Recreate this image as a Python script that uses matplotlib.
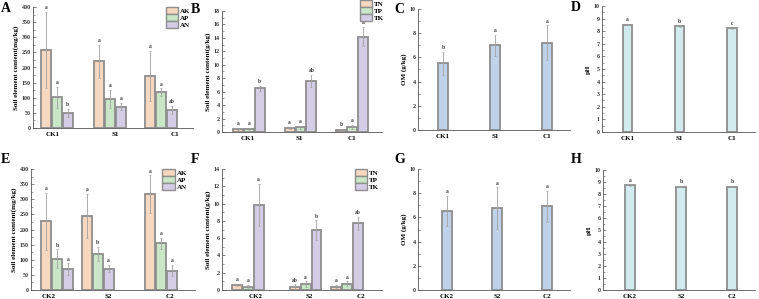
import matplotlib
matplotlib.use("Agg")
import matplotlib.pyplot as plt
from matplotlib.patches import Patch
from matplotlib.ticker import MultipleLocator, AutoMinorLocator

plt.rcParams['font.family'] = ['Liberation Serif', 'DejaVu Serif']
plt.rcParams['font.weight'] = 'bold'

# ---------------- data ----------------
groups_top = ['CK1', 'S1', 'C1']
groups_bot = ['CK2', 'S2', 'C2']
avail_names = ['AK', 'AP', 'AN']
total_names = ['TN', 'TP', 'TK']

# A
A_AK = [258, 220, 172]; A_AK_err = [127, 55, 82]
A_AP = [101, 96, 119];  A_AP_err = [34, 30, 12]
A_AN = [51, 70, 60];    A_AN_err = [13, 12, 13]
A_letters = [['a', 'a', 'a'], ['a', 'a', 'a'], ['b', 'a', 'ab']]
# B
B_TN = [0.45, 0.6, 0.35]; B_TN_err = [0.1, 0.15, 0.1]
B_TP = [0.45, 0.7, 0.8];  B_TP_err = [0.15, 0.25, 0.3]
B_TK = [6.5, 7.6, 14.2];  B_TK_err = [0.4, 0.9, 1.4]
B_letters = [['a', 'a', 'b'], ['a', 'a', 'a'], ['b', 'ab', 'a']]
# C
C_OM = [5.5, 7.0, 7.2]; C_OM_err = [0.95, 0.85, 1.45]
C_letters = ['b', 'a', 'a']
# D
D_pH = [8.52, 8.39, 8.23]; D_pH_err = [0.05, 0.06, 0.05]
D_letters = ['a', 'b', 'c']
# E
E_AK = [227, 245, 316]; E_AK_err = [95, 72, 63]
E_AP = [104, 120, 154]; E_AP_err = [30, 23, 17]
E_AN = [68, 70, 64];    E_AN_err = [20, 12, 18]
E_letters = [['a', 'a', 'a'], ['b', 'b', 'a'], ['a', 'a', 'a']]
# F
F_TN = [0.58, 0.4, 0.38]; F_TN_err = [0.1, 0.25, 0.2]
F_TP = [0.4, 0.7, 0.75];  F_TP_err = [0.2, 0.3, 0.25]
F_TK = [9.85, 6.9, 7.7];  F_TK_err = [2.45, 1.15, 0.8]
F_letters = [['a', 'ab', 'a'], ['a', 'a', 'a'], ['a', 'b', 'ab']]
# G
G_OM = [6.53, 6.75, 6.94]; G_OM_err = [1.27, 1.73, 1.28]
G_letters = ['a', 'a', 'a']
# H
H_pH = [8.75, 8.62, 8.62]; H_pH_err = [0.05, 0.06, 0.06]
H_letters = ['a', 'b', 'b']

# ---------------- style ----------------
W, H = 759, 299
fig = plt.figure(figsize=(W / 100, H / 100), dpi=100)

c_AK, c_AP, c_AN = '#F6D8C0', '#C9E6C6', '#D3CDE6'
c_OM, c_pH = '#BFD2EA', '#D2EBEE'
edge = '#8E8E8E'
ecol = '#A0A0A0'
spine_c = '#555555'
bw = 0.19


def make_ax(x0, x1, y0, y1):
    return fig.add_axes([x0 / W, 1 - y1 / H, (x1 - x0) / W, (y1 - y0) / H])


def style(ax, ymax, major, minor_n, ylabel, xlim, ticks, ticklabels):
    for s in ['top', 'right']:
        ax.spines[s].set_visible(False)
    for s in ['left', 'bottom']:
        ax.spines[s].set_color(spine_c)
        ax.spines[s].set_linewidth(0.6)
    ax.set_ylim(0, ymax)
    ax.set_xlim(*xlim)
    ax.yaxis.set_major_locator(MultipleLocator(major))
    ax.yaxis.set_minor_locator(AutoMinorLocator(minor_n))
    ax.tick_params(axis='y', which='major', direction='in', length=2, width=0.5,
                   labelsize=4.3, pad=1.5, colors=spine_c, labelcolor='#333333')
    ax.tick_params(axis='y', which='minor', direction='in', length=1.2, width=0.4, colors=spine_c)
    ax.set_xticks(ticks)
    ax.set_xticklabels(ticklabels, fontsize=5, fontweight='bold')
    ax.tick_params(axis='x', length=0, pad=3)
    ax.set_ylabel(ylabel, fontsize=5, fontweight='bold', labelpad=2)
    for t in ax.get_yticklabels():
        t.set_fontweight('bold')


def letter(ax, x, y, s, ymax):
    ax.text(x, y + ymax * 0.015, s, ha='center', va='bottom', fontsize=4, fontweight='bold', color='#333333')


def grouped(ax, centers, series, errs, colors, letters, ymax):
    offs = [-0.21, 0.0, 0.21]
    for k in range(3):
        xs = [c + offs[k] for c in centers]
        ax.bar(xs, series[k], width=bw, color=colors[k], edgecolor=edge, linewidth=1.3, zorder=2)
        ax.errorbar(xs, series[k], yerr=errs[k], fmt='none', ecolor=ecol, elinewidth=0.6,
                    capsize=1.0, capthick=0.5, zorder=3)
        for i in range(3):
            letter(ax, xs[i], series[k][i] + errs[k][i], letters[k][i], ymax)


def single(ax, centers, vals, errs, color, letters, ymax):
    ax.bar(centers, vals, width=bw, color=color, edgecolor=edge, linewidth=1.3, zorder=2)
    ax.errorbar(centers, vals, yerr=errs, fmt='none', ecolor=ecol, elinewidth=0.6,
                capsize=1.0, capthick=0.5, zorder=3)
    for i in range(3):
        letter(ax, centers[i], vals[i] + errs[i], letters[i], ymax)


def legend(ax, names, colors, loc_xy):
    handles = [Patch(facecolor=c, edgecolor=edge, linewidth=1.0) for c in colors]
    ax.legend(handles, names, loc='upper left', bbox_to_anchor=loc_xy, frameon=False,
              fontsize=5, handlelength=1.8, handleheight=1.1, handletextpad=0.3,
              labelspacing=0.05, borderaxespad=0, borderpad=0)


def panel_label(x, y, s):
    fig.text(x / W, 1 - y / H, s, fontsize=10, fontweight='bold', va='top', ha='left')


# ---------- A ----------
axA = make_ax(33, 193, 7, 128)
posA = [0, 1.02, 2.0]
grouped(axA, posA, [A_AK, A_AP, A_AN], [A_AK_err, A_AP_err, A_AN_err], [c_AK, c_AP, c_AN], A_letters, 400)
style(axA, 400, 50, 2, 'Soil element content(mg/kg)', (-0.46, 2.62), [-0.08, 1.12, 2.27], groups_top)
legend(axA, avail_names, [c_AK, c_AP, c_AN], (0.83, 1.0))

# ---------- B ----------
axB = make_ax(222, 382, 11, 132)
posB = [0, 1, 2]
grouped(axB, posB, [B_TN, B_TP, B_TK], [B_TN_err, B_TP_err, B_TK_err], [c_AK, c_AP, c_AN], B_letters, 18)
style(axB, 18, 2, 2, 'Soil element content(g/kg)', (-0.52, 2.58), [-0.03, 0.97, 2.0], groups_top)
legend(axB, total_names, [c_AK, c_AP, c_AN], (0.86, 1.09))

# ---------- C ----------
axC = make_ax(418, 570, 9, 130)
single(axC, [0, 1, 2], C_OM, C_OM_err, c_OM, C_letters, 10)
style(axC, 10, 2, 2, 'OM (g/kg)', (-0.48, 2.44), [0, 1, 2], groups_top)

# ---------- D ----------
axD = make_ax(602, 755, 6, 132)
single(axD, [0, 1, 2], D_pH, D_pH_err, c_pH, D_letters, 10)
style(axD, 10, 1, 2, 'pH', (-0.49, 2.45), [0, 1, 2], groups_top)

# ---------- E ----------
axE = make_ax(31, 195, 169, 290)
posE = [0, 0.78, 2.0]
grouped(axE, posE, [E_AK, E_AP, E_AN], [E_AK_err, E_AP_err, E_AN_err], [c_AK, c_AP, c_AN], E_letters, 400)
style(axE, 400, 50, 2, 'Soil element content(mg/kg)', (-0.5, 2.65), [-0.17, 0.98, 2.17], groups_bot)
legend(axE, avail_names, [c_AK, c_AP, c_AN], (0.8, 1.0))

# ---------- F ----------
axF = make_ax(222, 382, 169, 290)
posF = [0, 1.12, 1.92]
grouped(axF, posF, [F_TN, F_TP, F_TK], [F_TN_err, F_TP_err, F_TK_err], [c_AK, c_AP, c_AN], F_letters, 14)
style(axF, 14, 2, 2, 'Soil element content(g/kg)', (-0.5, 2.6), [0.15, 1.2, 2.2], groups_bot)
legend(axF, total_names, [c_AK, c_AP, c_AN], (0.83, 1.0))

# ---------- G ----------
axG = make_ax(418, 570, 169, 290)
single(axG, [0, 1, 2], G_OM, G_OM_err, c_OM, G_letters, 10)
style(axG, 10, 2, 2, 'OM (g/kg)', (-0.58, 2.46), [0, 1, 2], groups_bot)

# ---------- H ----------
axH = make_ax(603, 755, 170, 290)
single(axH, [0, 1, 2], H_pH, H_pH_err, c_pH, H_letters, 10)
style(axH, 10, 1, 2, 'pH', (-0.53, 2.45), [0, 1, 2], groups_bot)

panel_label(1, 2, 'A')
panel_label(191, 3, 'B')
panel_label(394, 3, 'C')
panel_label(571, 1, 'D')
panel_label(1, 153, 'E')
panel_label(191, 153, 'F')
panel_label(394, 153, 'G')
panel_label(571, 153, 'H')

fig.savefig('out.png', dpi=100)
